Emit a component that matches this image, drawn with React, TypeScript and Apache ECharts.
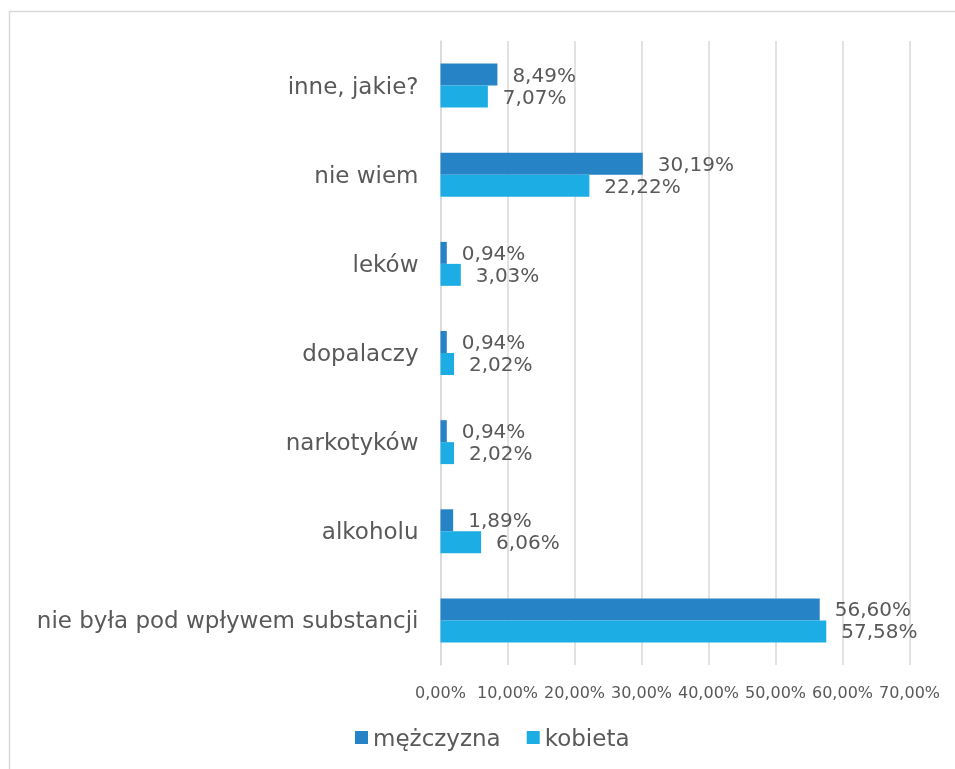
import React, { useEffect, useRef } from "react";
import * as echarts from "echarts";

const categories = [
  "nie była pod wpływem substancji",
  "alkoholu",
  "narkotyków",
  "dopalaczy",
  "leków",
  "nie wiem",
  "inne, jakie?",
];
const mezczyzna = [56.6, 1.89, 0.94, 0.94, 0.94, 30.19, 8.49];
const kobieta = [57.58, 6.06, 2.02, 2.02, 3.03, 22.22, 7.07];
const seriesNames = ["mężczyzna", "kobieta"];
const colors = ["#2683C6", "#1CADE4"];

const FONT = "DejaVu Sans";
const TEXT = "#595959";
const fmt = (v: number) => v.toFixed(2).replace(".", ",") + "%";

export default function App() {
  const ref = useRef<HTMLDivElement>(null);
  useEffect(() => {
    const chart = echarts.init(ref.current!, null, { renderer: "svg" });
    const label = {
      show: true,
      position: "right" as const,
      distance: 15,
      color: TEXT,
      fontFamily: FONT,
      fontSize: 20,
      formatter: (p: any) => fmt(p.value),
    };
    chart.setOption({
      animation: false,
      textStyle: { fontFamily: FONT },
      graphic: [
        {
          type: "rect",
          shape: { x: 9.5, y: 11.5, width: 1000, height: 1000 },
          style: { fill: "none", stroke: "#d9d9d9", lineWidth: 1.5 },
          silent: true,
        },
      ],
      grid: { left: 440.5, right: 45.5, top: 41, bottom: 104, containLabel: false },
      legend: {
        data: seriesNames,
        bottom: 15,
        left: 350,
        icon: "rect",
        itemWidth: 13,
        itemHeight: 13,
        itemGap: 26,
        textStyle: { color: TEXT, fontFamily: FONT, fontSize: 23 },
      },
      xAxis: {
        type: "value",
        min: 0,
        max: 70,
        interval: 10,
        axisLine: { show: false },
        axisTick: { show: false },
        splitLine: { lineStyle: { color: "#d9d9d9", width: 1.5 } },
        axisLabel: {
          color: TEXT,
          fontFamily: FONT,
          fontSize: 16,
          margin: 19,
          formatter: (v: number) => fmt(v),
        },
      },
      yAxis: {
        type: "category",
        data: categories,
        axisLine: { show: true, lineStyle: { color: "#d9d9d9", width: 1.5 } },
        axisTick: { show: false },
        axisLabel: { color: TEXT, fontFamily: FONT, fontSize: 23, margin: 22 },
      },
      series: [
        {
          name: seriesNames[0],
          type: "bar",
          data: mezczyzna,
          itemStyle: { color: colors[0] },
          barGap: "0%",
          barCategoryGap: "50.7%",
          label,
        },
        {
          name: seriesNames[1],
          type: "bar",
          data: kobieta,
          itemStyle: { color: colors[1] },
          barGap: "0%",
          barCategoryGap: "50.7%",
          label,
        },
      ],
    });
    return () => chart.dispose();
  }, []);
  return (
    <div
      ref={ref}
      style={{ position: "fixed", left: 0, top: 0, width: 955, height: 769 }}
    />
  );
}
